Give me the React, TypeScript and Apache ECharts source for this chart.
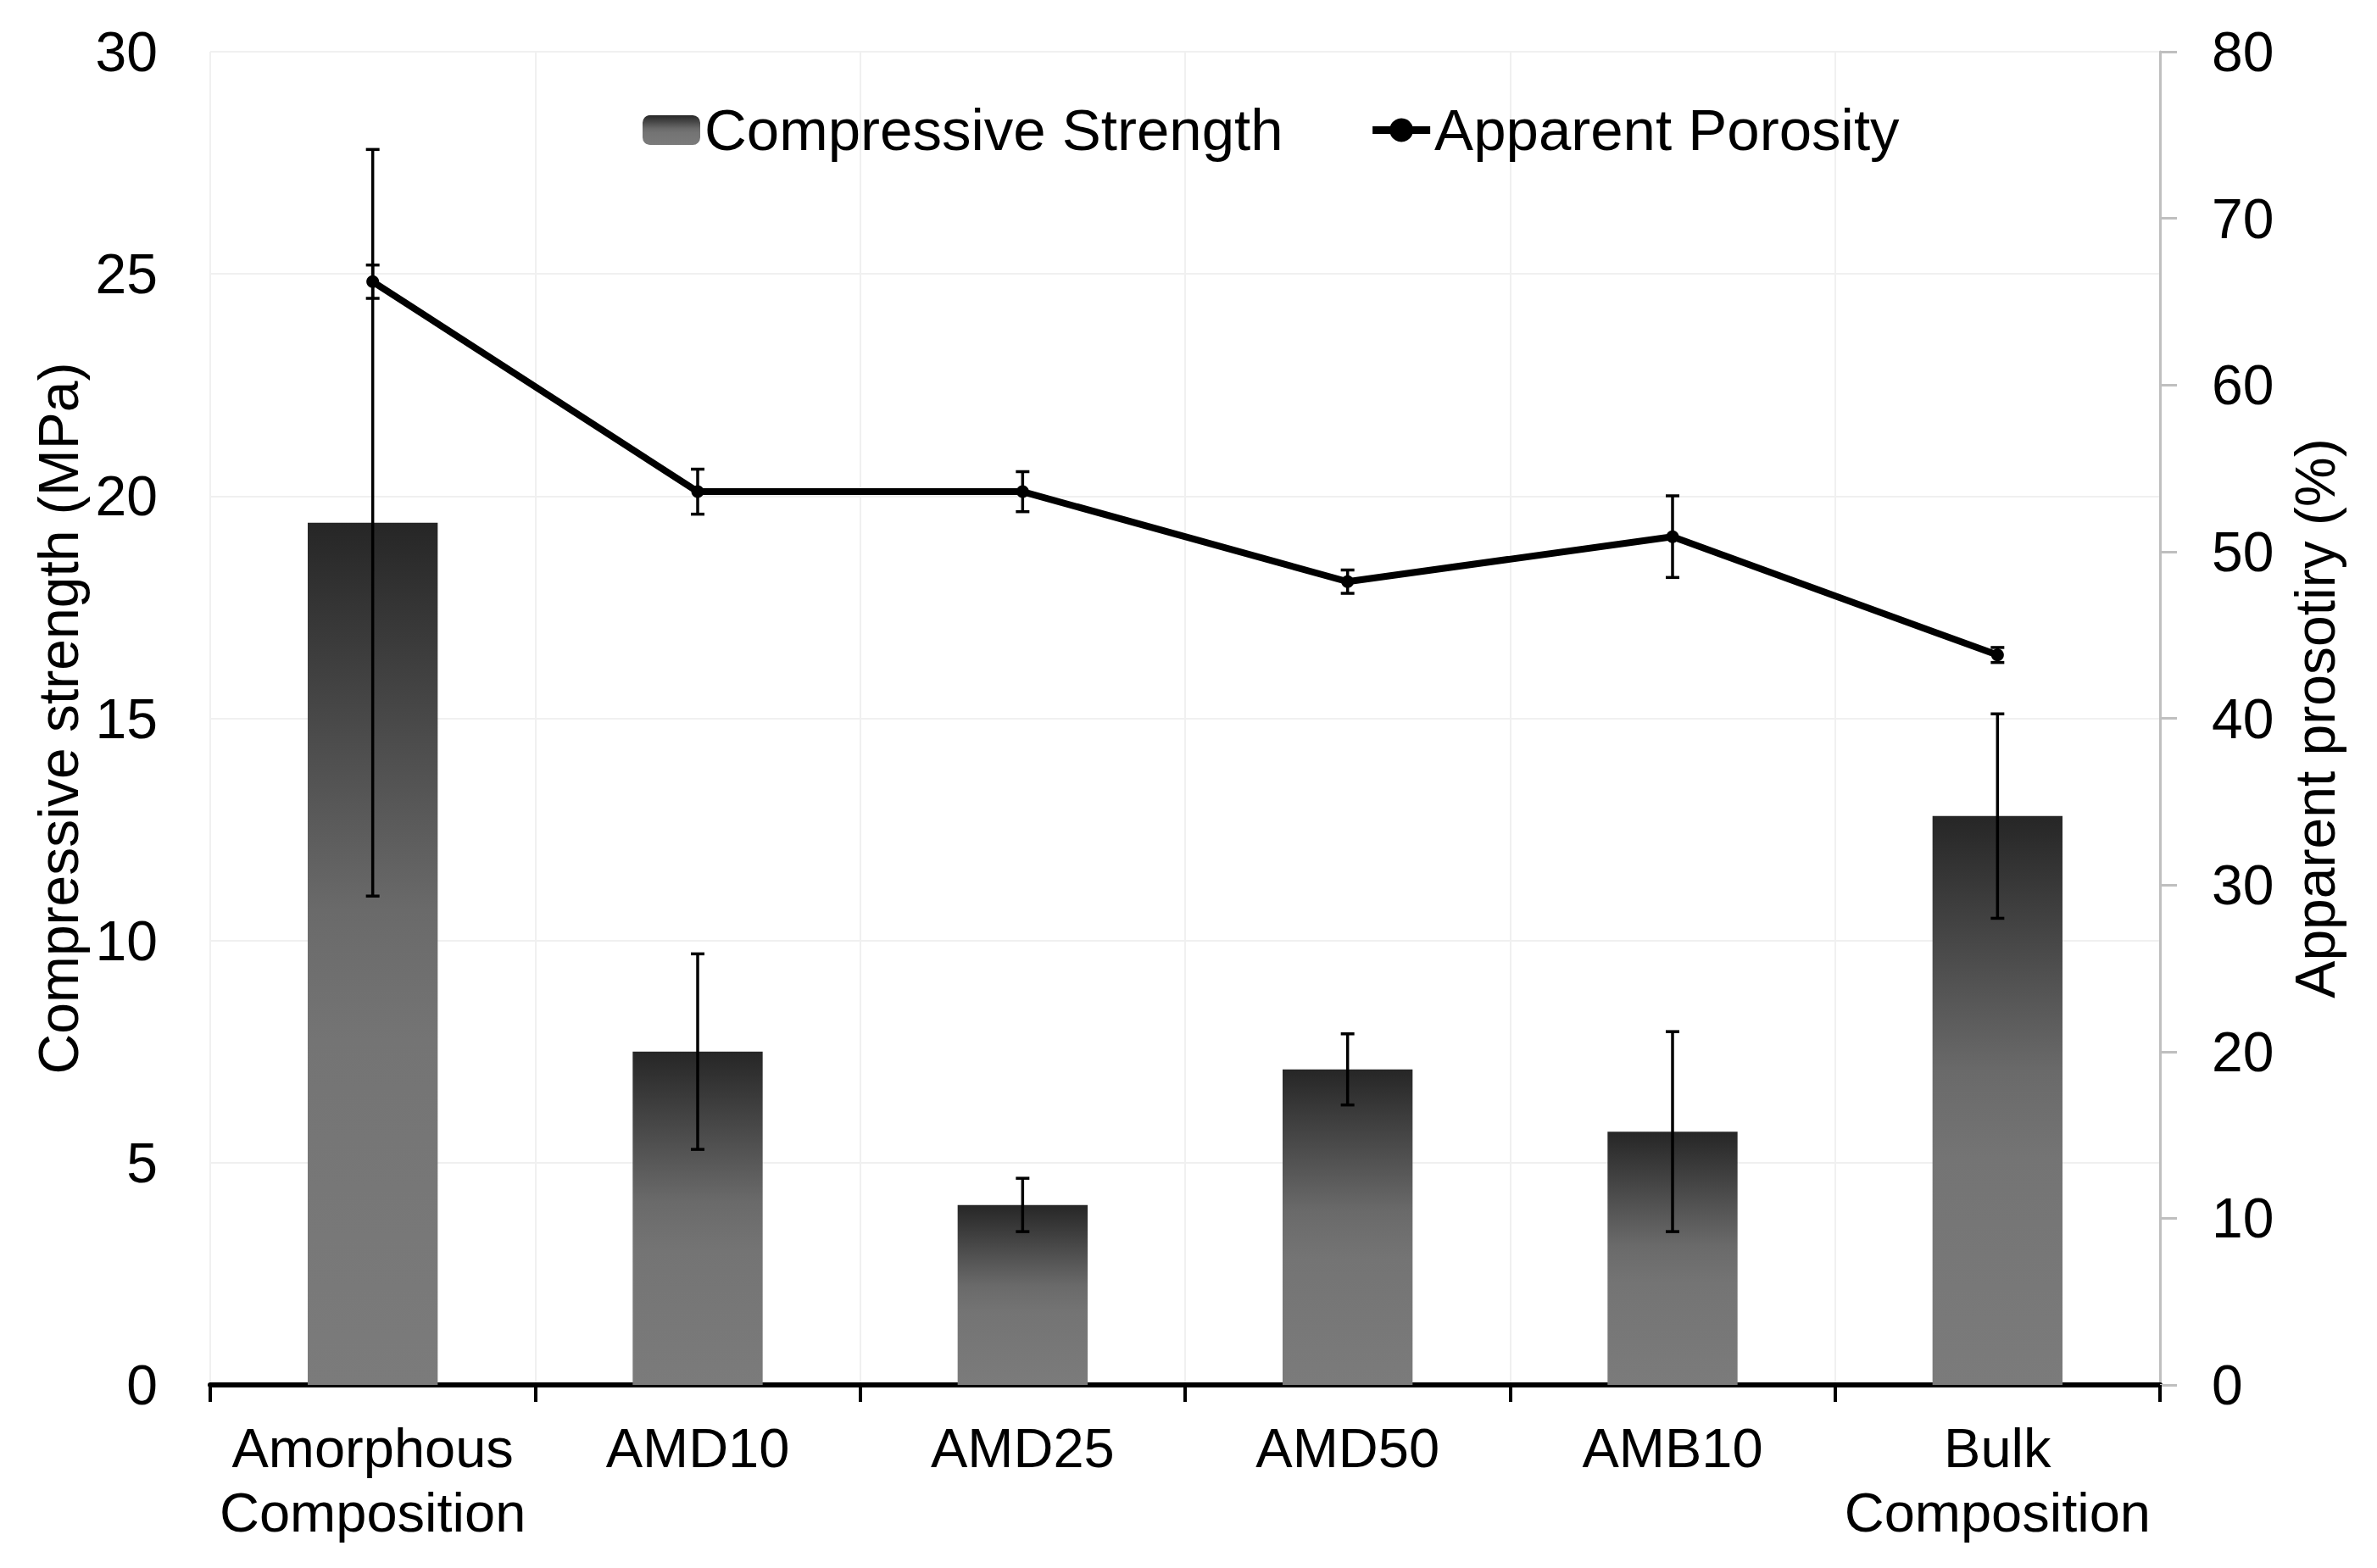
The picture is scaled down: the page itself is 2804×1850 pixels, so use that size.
import React, { useEffect, useRef } from "react";
import * as echarts from "echarts";

const categories = [
  "Amorphous\nComposition",
  "AMD10",
  "AMD25",
  "AMD50",
  "AMB10",
  "Bulk\nComposition",
];
const strength = [19.4, 7.5, 4.05, 7.1, 5.7, 12.8];
const strengthErr = [8.4, 2.2, 0.6, 0.8, 2.25, 2.3];
const porosity = [66.2, 53.6, 53.6, 48.2, 50.9, 43.8];
const porosityErr = [1.0, 1.35, 1.2, 0.7, 2.45, 0.45];

const leftAxis = { min: 0, max: 30, interval: 5 };
const rightAxis = { min: 0, max: 80, interval: 10 };

const FONT = "'Liberation Sans', Arial, Helvetica, sans-serif";
const FS = 65;

function errorBarItem(params: any, api: any) {
  const x = api.value(0);
  const lo = api.coord([x, api.value(1)]);
  const hi = api.coord([x, api.value(2)]);
  const half = 8;
  const style = { stroke: "#000", lineWidth: 3.5 };
  return {
    type: "group",
    children: [
      { type: "line", shape: { x1: hi[0], y1: hi[1], x2: lo[0], y2: lo[1] }, style },
      { type: "line", shape: { x1: hi[0] - half, y1: hi[1], x2: hi[0] + half, y2: hi[1] }, style },
      { type: "line", shape: { x1: lo[0] - half, y1: lo[1], x2: lo[0] + half, y2: lo[1] }, style },
    ],
  };
}

export default function App() {
  const ref = useRef<HTMLDivElement>(null);

  useEffect(() => {
    document.body.style.margin = "0";
    if (!ref.current) return;
    const chart = echarts.init(ref.current, null, { renderer: "svg" });

    const barGradient = new echarts.graphic.LinearGradient(0, 0, 0, 1, [
      { offset: 0, color: "#262626" },
      { offset: 0.45, color: "#6a6a6a" },
      { offset: 0.6, color: "#747474" },
      { offset: 1, color: "#7b7b7b" },
    ]);

    const strengthErrData = strength.map((v, i) => [i, v - strengthErr[i], v + strengthErr[i]]);
    const porosityErrData = porosity.map((v, i) => [i, v - porosityErr[i], v + porosityErr[i]]);

    chart.setOption({
      animation: false,
      backgroundColor: "#ffffff",
      textStyle: { fontFamily: FONT, color: "#000" },
      grid: { left: 248, right: 256, top: 61, bottom: 216, containLabel: false },
      legend: {
        data: ["Compressive Strength", "Apparent Porosity"],
        left: 753,
        top: 114,
        itemWidth: 68,
        itemHeight: 35,
        itemGap: 101,
        lineStyle: { width: 9 },
        textStyle: { fontFamily: FONT, fontSize: 69, color: "#000" },
      },
      xAxis: {
        type: "category",
        data: categories,
        boundaryGap: true,
        axisLine: { show: true, lineStyle: { color: "#000", width: 6 } },
        axisTick: { show: true, length: 20, lineStyle: { color: "#000", width: 4 } },
        axisLabel: {
          interval: 0,
          color: "#000",
          fontFamily: FONT,
          fontSize: FS,
          lineHeight: 76,
          margin: 36,
        },
        splitLine: { show: true, interval: 0, lineStyle: { color: "#f0f0f0", width: 2 } },
      },
      yAxis: [
        {
          type: "value",
          min: leftAxis.min,
          max: leftAxis.max,
          interval: leftAxis.interval,
          name: "Compressive strength (MPa)",
          nameLocation: "middle",
          nameRotate: 90,
          nameGap: 140,
          nameTextStyle: { fontFamily: FONT, fontSize: 66, color: "#000" },
          axisLine: { show: false },
          axisTick: { show: false },
          axisLabel: { color: "#000", fontFamily: FONT, fontSize: 66, margin: 62 },
          splitLine: { show: true, lineStyle: { color: "#f0f0f0", width: 2 } },
        },
        {
          type: "value",
          position: "right",
          min: rightAxis.min,
          max: rightAxis.max,
          interval: rightAxis.interval,
          name: "Apparent prosotiry (%)",
          nameLocation: "middle",
          nameRotate: 90,
          nameGap: 150,
          nameTextStyle: { fontFamily: FONT, fontSize: 66, color: "#000" },
          axisLine: { show: true, lineStyle: { color: "#bfbfbf", width: 3 } },
          axisTick: { show: true, length: 20, lineStyle: { color: "#bfbfbf", width: 3 } },
          axisLabel: { color: "#000", fontFamily: FONT, fontSize: 66, margin: 61 },
          splitLine: { show: false },
        },
      ],
      series: [
        {
          name: "Compressive Strength",
          type: "bar",
          data: strength,
          barWidth: "40%",
          yAxisIndex: 0,
          itemStyle: { color: barGradient },
          z: 2,
        },
        {
          name: "strengthErr",
          type: "custom",
          renderItem: errorBarItem,
          data: strengthErrData,
          encode: { x: 0, y: [1, 2] },
          yAxisIndex: 0,
          silent: true,
          z: 3,
        },
        {
          name: "porosityErr",
          type: "custom",
          renderItem: errorBarItem,
          data: porosityErrData,
          encode: { x: 0, y: [1, 2] },
          yAxisIndex: 1,
          silent: true,
          z: 4,
        },
        {
          name: "Apparent Porosity",
          type: "line",
          data: porosity,
          yAxisIndex: 1,
          symbol: "circle",
          symbolSize: 15,
          lineStyle: { color: "#000", width: 8 },
          itemStyle: { color: "#000" },
          z: 5,
        },
      ],
    });

    return () => chart.dispose();
  }, []);

  return <div ref={ref} style={{ width: 2804, height: 1850 }} />;
}
